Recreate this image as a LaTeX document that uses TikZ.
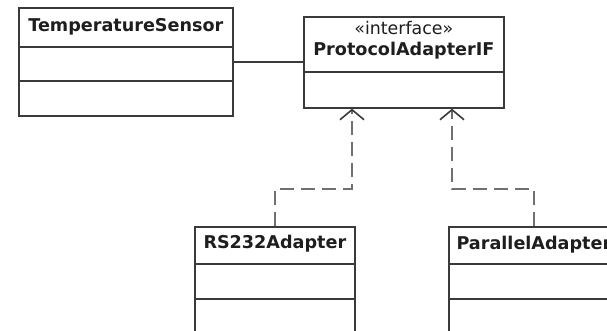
\documentclass[tikz,border=0pt]{standalone}
\usepackage{fontspec}
\setmainfont{DejaVu Sans}
\usetikzlibrary{arrows.meta,calc}
\definecolor{boxline}{HTML}{3A3A3A}
\definecolor{dashcol}{HTML}{707070}
\definecolor{txtcol}{HTML}{1E1E1E}
\begin{document}
\begin{tikzpicture}[x=1pt,y=-1pt,
  classbox/.style={draw=boxline, line width=1.7pt, fill=white, anchor=north west, inner sep=0pt},
  divider/.style={draw=boxline, line width=1.7pt},
  classname/.style={anchor=base, inner sep=0pt, text=txtcol, font=\fontsize{17.6}{20}\selectfont\bfseries},
  stereo/.style={anchor=base, inner sep=0pt, text=txtcol, font=\fontsize{17.4}{20}\selectfont},
  assoc/.style={draw=boxline, line width=1.7pt},
  realize/.style={draw=dashcol, line width=2pt, dash pattern=on 14pt off 7pt,
    -{Straight Barb[length=10pt, width=24pt, line width=1.6pt, color=boxline]}}]
\useasboundingbox (0,0) rectangle (607,331);
\clip (0,0) rectangle (607,331);

% classes
\node[classbox, minimum width=214pt, minimum height=108pt] (ts) at (18,7) {};
\node[classbox, minimum width=200pt, minimum height=91pt] (pa) at (303,16) {};
\node[classbox, minimum width=160pt, minimum height=112pt] (rs) at (194,226) {};
\node[classbox, minimum width=170pt, minimum height=112pt] (pl) at (448,226) {};

% compartments
\draw[divider] ([yshift=-40pt]ts.north west) -- ([yshift=-40pt]ts.north east);
\draw[divider] ([yshift=-74pt]ts.north west) -- ([yshift=-74pt]ts.north east);
\draw[divider] ([yshift=-56pt]pa.north west) -- ([yshift=-56pt]pa.north east);
\draw[divider] ([yshift=-38pt]rs.north west) -- ([yshift=-38pt]rs.north east);
\draw[divider] ([yshift=-73pt]rs.north west) -- ([yshift=-73pt]rs.north east);
\draw[divider] ([yshift=-38pt]pl.north west) -- ([yshift=-38pt]pl.north east);
\draw[divider] ([yshift=-73pt]pl.north west) -- ([yshift=-73pt]pl.north east);

% names
\node[classname] (tsname) at ($(ts.north)+(0,24.5)$) {TemperatureSensor};
\node[stereo] (pastereo) at ($(pa.north)+(0,19)$) {«interface»};
\node[classname] (paname) at ($(pa.north)+(0,40)$) {ProtocolAdapterIF};
\node[classname] (rsname) at ($(rs.north)+(0,22.5)$) {RS232Adapter};
\node[classname] (plname) at ($(pl.north)+(0,23.5)$) {ParallelAdapter};

% association
\draw[assoc] (ts.east) -- (ts.east -| pa.west);

% realizations
\draw[realize] (rs.north) -- ++(0,-37) -| ($(pa.south west)+(49,0)$);
\draw[realize] (pl.north) -- ++(0,-37) -| ($(pa.south west)+(149,0)$);
\end{tikzpicture}
\end{document}
